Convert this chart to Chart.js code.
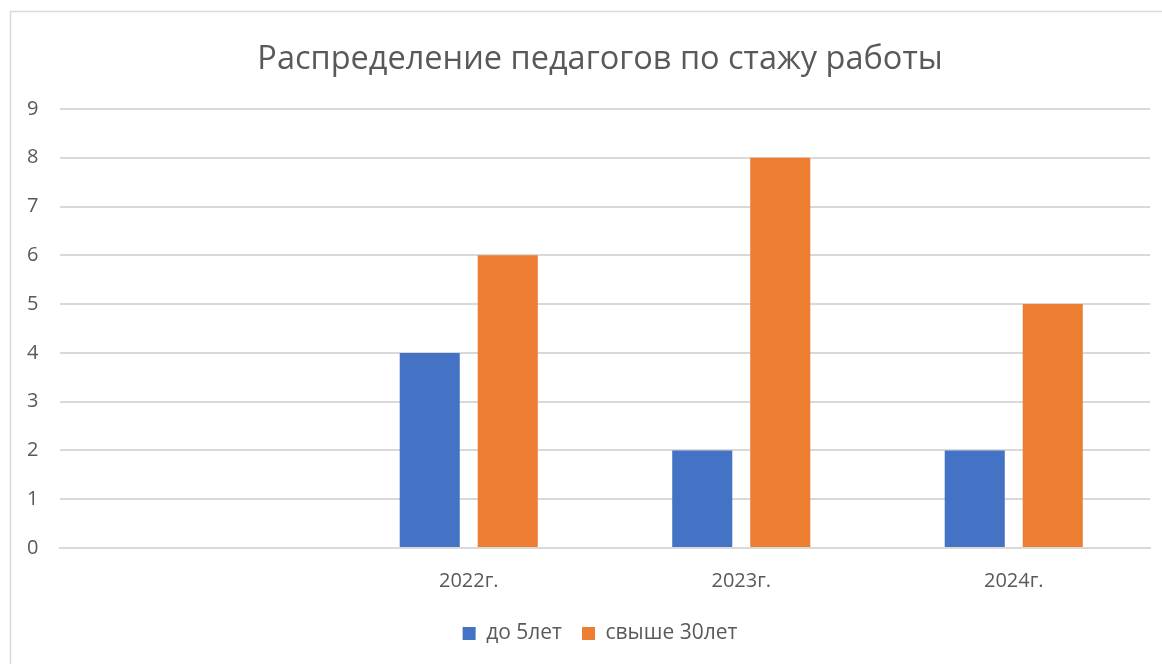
<!DOCTYPE html>
<html>
<head>
<meta charset="utf-8">
<script src="https://cdn.jsdelivr.net/npm/chart.js@4"></script>
<style>
html,body{margin:0;padding:0;background:#fff;}
#wrap{width:1162px;height:664px;}
</style>
</head>
<body>
<div id="wrap"><canvas id="chart" width="1162" height="664"></canvas></div>
<script>
const categories = ["", "2022г.", "2023г.", "2024г."];
const under5 = [null, 4, 2, 2];
const over30 = [null, 6, 8, 5];
const yTicks = [0, 1, 2, 3, 4, 5, 6, 7, 8, 9];

const textColor = "#595959";
const gridColor = "#d9d9d9";

// light frame around the chart, like the office chart box
const frame = {
  id: "frame",
  beforeDraw(c){
    const ctx = c.ctx;
    ctx.save();
    ctx.fillStyle = "#fff";
    ctx.fillRect(0, 0, c.width, c.height);
    ctx.strokeStyle = "#d9d9d9";
    ctx.lineWidth = 1.5;
    ctx.strokeRect(10.5, 11.5, 1300, 800);
    ctx.restore();
  }
};

const chart = new Chart(document.getElementById("chart"), {
  type: "bar",
  data: {
    labels: categories,
    datasets: [
      {label: "до 5лет", data: under5, backgroundColor: "#4472C4"},
      {label: "свыше 30лет", data: over30, backgroundColor: "#ED7D31"}
    ]
  },
  options: {
    responsive: false,
    animation: false,
    categoryPercentage: 0.5725,
    barPercentage: 0.77,
    layout: {padding: {left: 50, right: 12, top: 11, bottom: 10}},
    plugins: {
      title: {
        display: true,
        text: "Распределение педагогов по стажу работы",
        color: textColor,
        font: {family: "Open Sans", size: 32.5, weight: "normal"},
        padding: {top: 29, bottom: 30}
      },
      legend: {
        position: "bottom",
        labels: {
          color: textColor,
          font: {family: "Open Sans", size: 21},
          boxWidth: 13,
          boxHeight: 13,
          padding: 20
        }
      },
      tooltip: {enabled: false}
    },
    scales: {
      x: {
        grid: {display: false},
        border: {color: gridColor, width: 2},
        ticks: {color: textColor, font: {family: "Open Sans", size: 20}, padding: 13},
        afterFit(s){ s.height = 55; }
      },
      y: {
        min: 0,
        max: 9,
        afterBuildTicks(s){ s.ticks = yTicks.map(v => ({value: v})); },
        grid: {color: gridColor, lineWidth: 2, drawTicks: false},
        border: {display: false},
        // mirrored so the labels can sit left of the narrow axis box
        ticks: {color: textColor, font: {family: "Open Sans", size: 20}, mirror: true, padding: -33},
        afterFit(s){ s.width = 10; }
      }
    }
  },
  plugins: [frame]
});
</script>
</body>
</html>
